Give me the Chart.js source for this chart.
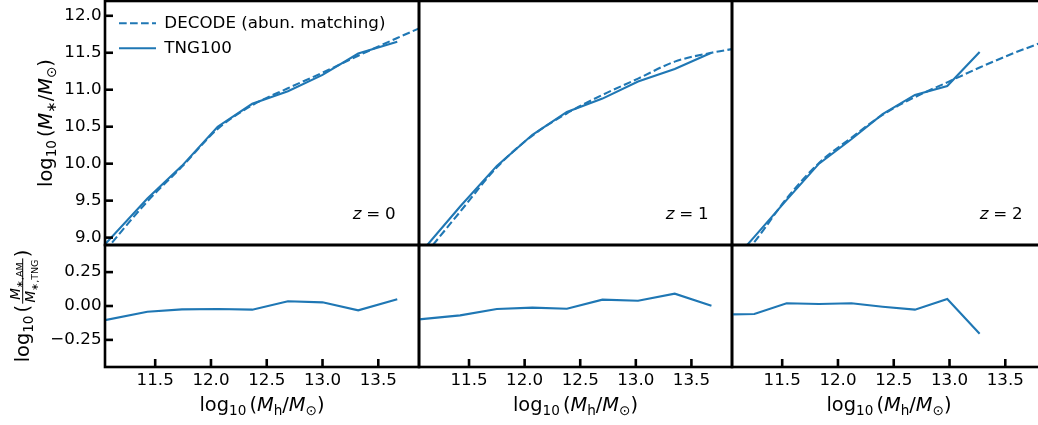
<!DOCTYPE html>
<html>
<head>
<meta charset="utf-8">
<script src="https://cdn.jsdelivr.net/npm/chart.js@4.4.1/dist/chart.umd.min.js"></script>
<style>
  html, body { margin: 0; padding: 0; background: #fff; }
  #fig { position: relative; width: 1038px; height: 425px; overflow: hidden; }
  #fig canvas { position: absolute; }
</style>
</head>
<body>
<div id="fig">
  <canvas id="top0" width="425" height="251" style="left:0;top:0"></canvas>
  <canvas id="top1" width="325" height="251" style="left:413px;top:0"></canvas>
  <canvas id="top2" width="326" height="251" style="left:726px;top:0"></canvas>
  <canvas id="bot0" width="425" height="186" style="left:0;top:239px"></canvas>
  <canvas id="bot1" width="325" height="186" style="left:413px;top:239px"></canvas>
  <canvas id="bot2" width="326" height="186" style="left:726px;top:239px"></canvas>
</div>
<script>
// axis ticks
const haloTicks = [11.5, 12.0, 12.5, 13.0, 13.5];
const stellarTicks = [9.0, 9.5, 10.0, 10.5, 11.0, 11.5, 12.0];
const ratioTicks = [-0.25, 0.0, 0.25];
const redshifts = ['0', '1', '2'];

// TNG100 median stellar-to-halo mass relation, and log10(M*,AM / M*,TNG) in the same bins
const tngHaloZ0 = [11.05, 11.43, 11.74, 12.06, 12.37, 12.69, 13.00, 13.32, 13.67];
const tngStellarZ0 = [8.91, 9.53, 9.97, 10.50, 10.81, 10.98, 11.20, 11.49, 11.65];
const ratioZ0 = [-0.104, -0.042, -0.025, -0.022, -0.027, 0.035, 0.027, -0.032, 0.050];

const tngHaloZ1 = [11.05, 11.42, 11.75, 12.07, 12.38, 12.70, 13.02, 13.35, 13.68];
const tngStellarZ1 = [8.77, 9.42, 9.97, 10.39, 10.70, 10.88, 11.11, 11.28, 11.50];
const ratioZ1 = [-0.099, -0.069, -0.022, -0.012, -0.020, 0.047, 0.039, 0.091, 0.002];

const tngHaloZ2 = [11.05, 11.25, 11.54, 11.83, 12.12, 12.40, 12.69, 12.98, 13.27];
const tngStellarZ2 = [8.67, 9.01, 9.51, 10.00, 10.33, 10.67, 10.93, 11.05, 11.51];
const ratioZ2 = [-0.062, -0.059, 0.020, 0.015, 0.020, -0.005, -0.027, 0.052, -0.205];

// DECODE abundance-matching relation
const decodeHaloZ0 = [11.05, 11.43, 11.74, 12.06, 12.37, 12.69, 13.00, 13.32, 13.67, 13.865];
const decodeStellarZ0 = [8.82, 9.49, 9.96, 10.47, 10.79, 11.02, 11.23, 11.46, 11.70, 11.83];
const decodeHaloZ1 = [11.05, 11.42, 11.75, 12.07, 12.38, 12.70, 13.02, 13.35, 13.68, 13.865];
const decodeStellarZ1 = [8.67, 9.35, 9.95, 10.38, 10.68, 10.93, 11.15, 11.38, 11.50, 11.55];
const decodeHaloZ2 = [11.05, 11.25, 11.54, 11.83, 12.12, 12.40, 12.69, 12.98, 13.27, 13.55, 13.865];
const decodeStellarZ2 = [8.61, 8.94, 9.53, 10.01, 10.35, 10.66, 10.90, 11.10, 11.30, 11.48, 11.66];

const series = [
  { tngHalo: tngHaloZ0, tngStellar: tngStellarZ0, ratio: ratioZ0, decodeHalo: decodeHaloZ0, decodeStellar: decodeStellarZ0 },
  { tngHalo: tngHaloZ1, tngStellar: tngStellarZ1, ratio: ratioZ1, decodeHalo: decodeHaloZ1, decodeStellar: decodeStellarZ1 },
  { tngHalo: tngHaloZ2, tngStellar: tngStellarZ2, ratio: ratioZ2, decodeHalo: decodeHaloZ2, decodeStellar: decodeStellarZ2 }
];

const C0 = '#1f77b4';
const FAMILY = '"DejaVu Sans", sans-serif';
const FS = 16.7;        // ticks, legend, panel tags
const TITLE_FS = 19.4;  // axis titles
const LW = 2.1;
const SPINE = 2.6;
const TICK_LEN = 8;

Chart.defaults.font.family = FAMILY;
Chart.defaults.font.size = FS;
Chart.defaults.color = '#000';

// mathtext-like labels: runs of roman / italic / subscript text and fractions
const haloTitle = [{ t: 'log' }, { t: '10', sub: 1 }, { gap: 0.16 }, { t: '(' }, { t: 'M', it: 1 }, { t: 'h', sub: 1 },
  { t: '/' }, { t: 'M', it: 1 }, { t: '\u2299', sub: 1 }, { t: ')' }];
const stellarTitle = [{ t: 'log' }, { t: '10', sub: 1 }, { gap: 0.16 }, { t: '(' }, { t: 'M', it: 1 }, { t: '\u2217', sub: 1 },
  { t: '/' }, { t: 'M', it: 1 }, { t: '\u2299', sub: 1 }, { t: ')' }];
const ratioTitle = [{ t: 'log' }, { t: '10', sub: 1 }, { gap: 0.16 }, { t: '(' },
  { frac: [[{ t: 'M', it: 1 }, { t: '\u2217,AM', sub: 1 }], [{ t: 'M', it: 1 }, { t: '\u2217,TNG', sub: 1 }]] }, { t: ')' }];
const zText = z => [{ t: 'z', it: 1 }, { gap: 0.28 }, { t: '=' }, { gap: 0.28 }, { t: z }];

function runFont(r, size) {
  return (r.it ? 'italic ' : '') + size + 'px ' + FAMILY;
}

function measureRuns(ctx, runs, size) {
  let w = 0;
  for (const r of runs) {
    if (r.gap) { w += r.gap * size; continue; }
    if (r.frac) { w += fracWidth(ctx, r.frac, size); continue; }
    ctx.font = runFont(r, r.sub ? size * 0.7 : size);
    w += ctx.measureText(r.t).width;
  }
  return w;
}

function fracWidth(ctx, frac, size) {
  const s = size * 0.7;
  return Math.max(measureRuns(ctx, frac[0], s), measureRuns(ctx, frac[1], s)) + size * 0.24;
}

function drawRuns(ctx, runs, x, y, size) {
  for (const r of runs) {
    if (r.gap) { x += r.gap * size; continue; }
    if (r.frac) { x += drawFrac(ctx, r.frac, x, y, size); continue; }
    ctx.font = runFont(r, r.sub ? size * 0.7 : size);
    ctx.fillText(r.t, x, y + (r.sub ? size * 0.22 : 0));
    x += ctx.measureText(r.t).width;
  }
  return x;
}

function drawFrac(ctx, frac, x, y, size) {
  const s = size * 0.7;
  const wn = measureRuns(ctx, frac[0], s);
  const wd = measureRuns(ctx, frac[1], s);
  const w = Math.max(wn, wd) + size * 0.24;
  const bar = y - size * 0.3;
  ctx.fillRect(x + size * 0.06, bar - 0.5, w - size * 0.12, 1);
  drawRuns(ctx, frac[0], x + (w - wn) / 2, bar - size * 0.14, s);
  drawRuns(ctx, frac[1], x + (w - wd) / 2, bar + size * 0.14 + s * 0.73, s);
  return w;
}

// inward tick marks along the bottom and left edges of the plot area
function drawTickMarks(chart, xShown, yShown) {
  const { ctx, chartArea: a } = chart;
  ctx.save();
  ctx.setLineDash([]);
  ctx.strokeStyle = '#000';
  ctx.lineWidth = SPINE;
  ctx.lineCap = 'butt';
  if (xShown) {
    const sx = chart.scales.x;
    sx.ticks.forEach(t => {
      const p = sx.getPixelForValue(t.value);
      ctx.beginPath();
      ctx.moveTo(p, a.bottom);
      ctx.lineTo(p, a.bottom - TICK_LEN);
      ctx.stroke();
    });
  }
  if (yShown) {
    const sy = chart.scales.y;
    sy.ticks.forEach(t => {
      const p = sy.getPixelForValue(t.value);
      ctx.beginPath();
      ctx.moveTo(a.left, p);
      ctx.lineTo(a.left + TICK_LEN, p);
      ctx.stroke();
    });
  }
  ctx.restore();
}

// frame, tick marks, axis titles and the redshift tag for one panel
function decor(o) {
  return {
    id: 'decor',
    afterLayout(chart) {
      if (o.legendShift && chart.legend) {
        chart.legend.left += o.legendShift[0];
        chart.legend.top += o.legendShift[1];
      }
    },
    afterDraw(chart) {
      const { ctx, chartArea: a } = chart;
      drawTickMarks(chart, o.xTicks, o.yTicks);
      ctx.save();
      ctx.setLineDash([]);
      ctx.strokeStyle = '#000';
      ctx.lineWidth = SPINE;
      ctx.strokeRect(a.left, a.top, a.right - a.left, a.bottom - a.top);
      ctx.fillStyle = '#000';
      ctx.textAlign = 'left';
      ctx.textBaseline = 'alphabetic';
      if (o.z) {
        const runs = zText(o.z);
        const w = measureRuns(ctx, runs, FS);
        drawRuns(ctx, runs, a.right - 23.5 - w, a.bottom - 26.5, FS);
      }
      if (o.xTitle) {
        const w = measureRuns(ctx, o.xTitle, TITLE_FS);
        drawRuns(ctx, o.xTitle, (a.left + a.right) / 2 - w / 2, chart.scales.x.bottom - 14, TITLE_FS);
      }
      if (o.yTitle) {
        const w = measureRuns(ctx, o.yTitle, TITLE_FS);
        ctx.translate(a.left - o.yTitleGap, (a.top + a.bottom) / 2);
        ctx.rotate(-Math.PI / 2);
        drawRuns(ctx, o.yTitle, -w / 2, 0, TITLE_FS);
      }
      ctx.restore();
    }
  };
}

// tick marks come from drawTickMarks; tickLength still sets the label offset
const hiddenGrid = { display: false, drawTicks: true, tickLength: -TICK_LEN };

// fixed axis box sizes; hidden axes take no room
function fixBox(show, key, size) {
  return s => {
    s.paddingTop = s.paddingBottom = s.paddingLeft = s.paddingRight = 0;
    if (show) s[key] = size;
  };
}

function haloScale(show) {
  return {
    type: 'linear', position: 'bottom', bounds: 'data', min: 11.05, max: 13.865, display: show,
    border: { display: false },
    grid: hiddenGrid,
    ticks: { padding: 12, maxRotation: 0, autoSkip: false, callback: v => v.toFixed(1) },
    afterBuildTicks: s => { s.ticks = haloTicks.map(v => ({ value: v })); },
    afterFit: fixBox(show, 'height', 58)
  };
}

function stellarScale(show) {
  return {
    type: 'linear', position: 'left', bounds: 'data', min: 8.9, max: 12.2, display: show,
    border: { display: false },
    grid: hiddenGrid,
    ticks: { padding: 11.5, autoSkip: false, callback: v => v.toFixed(1) },
    afterBuildTicks: s => { s.ticks = stellarTicks.map(v => ({ value: v })); },
    afterFit: fixBox(show, 'width', 105)
  };
}

function ratioScale(show) {
  return {
    type: 'linear', position: 'left', bounds: 'data', min: -0.45, max: 0.45, display: show,
    border: { display: false },
    grid: hiddenGrid,
    ticks: { padding: 11.5, autoSkip: false, callback: v => v.toFixed(2).replace('-', '\u2212') },
    afterBuildTicks: s => { s.ticks = ratioTicks.map(v => ({ value: v })); },
    afterFit: fixBox(show, 'width', 105)
  };
}

const pts = (xs, ys) => xs.map((x, i) => ({ x: x, y: ys[i] }));

const legendOpts = {
  display: true,
  position: 'chartArea',
  align: 'start',
  labels: {
    usePointStyle: true,
    pointStyleWidth: 37,
    padding: 8.3,
    font: { size: FS },
    generateLabels: chart => chart.data.datasets.map((ds, i) => ({
      text: ds.label,
      strokeStyle: ds.borderColor,
      fillStyle: ds.borderColor,
      lineWidth: ds.borderWidth,
      lineDash: ds.borderDash || [],
      pointStyle: 'line',
      fontColor: '#000',
      hidden: false,
      datasetIndex: i
    }))
  }
};

series.forEach((s, col) => {
  const first = col === 0;
  const side = { left: first ? 0 : 6, right: 6 };

  new Chart(document.getElementById('top' + col), {
    type: 'line',
    data: {
      datasets: [
        {
          label: 'DECODE (abun. matching)',
          data: pts(s.decodeHalo, s.decodeStellar),
          borderColor: C0, borderWidth: LW, borderDash: [7.7, 3.3],
          cubicInterpolationMode: 'monotone', pointRadius: 0
        },
        {
          label: 'TNG100',
          data: pts(s.tngHalo, s.tngStellar),
          borderColor: C0, borderWidth: LW, pointRadius: 0
        }
      ]
    },
    options: {
      responsive: false, animation: false, events: [],
      layout: { autoPadding: false, padding: { top: 1, bottom: 6, left: side.left, right: side.right } },
      scales: { x: haloScale(false), y: stellarScale(first) },
      plugins: { tooltip: { enabled: false }, legend: first ? legendOpts : { display: false } }
    },
    plugins: [decor({
      z: redshifts[col], xTicks: false, yTicks: first,
      yTitle: first ? stellarTitle : null, yTitleGap: 53.5,
      legendShift: first ? [5.7, 6.6] : null
    })]
  });

  new Chart(document.getElementById('bot' + col), {
    type: 'line',
    data: {
      datasets: [{
        label: 'ratio',
        data: pts(s.tngHalo, s.ratio),
        borderColor: C0, borderWidth: LW, pointRadius: 0
      }]
    },
    options: {
      responsive: false, animation: false, events: [],
      layout: { autoPadding: false, padding: { top: 6, bottom: 0, left: side.left, right: side.right } },
      scales: { x: haloScale(true), y: ratioScale(first) },
      plugins: { tooltip: { enabled: false }, legend: { display: false } }
    },
    plugins: [decor({
      xTicks: true, yTicks: first,
      xTitle: haloTitle, yTitle: first ? ratioTitle : null, yTitleGap: 76.5
    })]
  });
});
</script>
</body>
</html>
